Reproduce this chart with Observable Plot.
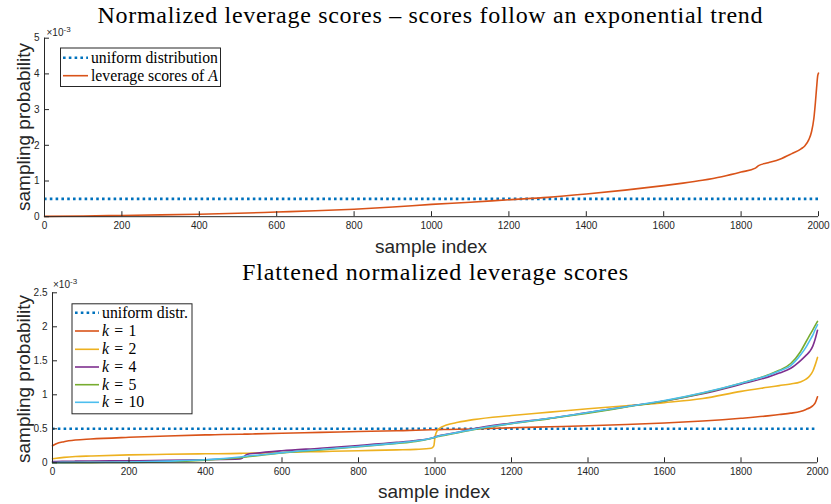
<!DOCTYPE html>
<html>
<head>
<meta charset="utf-8">
<script src="https://cdn.jsdelivr.net/npm/d3@7"></script>
<script src="https://cdn.jsdelivr.net/npm/@observablehq/plot@0.6"></script>
<style>
  html, body { margin: 0; padding: 0; background: #fff; }
  #wrap { position: relative; width: 831px; height: 504px; overflow: hidden; }
  #wrap > svg { position: absolute; left: 0; }
</style>
</head>
<body>
<div id="wrap"></div>
<script>
// ---------- data (probabilities in units of 10^-3) ----------
const xTicks = [0, 200, 400, 600, 800, 1000, 1200, 1400, 1600, 1800, 2000];
const topYTicks = [0, 1, 2, 3, 4, 5];
const botYTicks = [0, 0.5, 1, 1.5, 2, 2.5];
const uniformProb = 0.5; // 1/2000

const topIndex  = [0, 100, 200, 300, 400, 500, 600, 700, 800, 900, 1000, 1100, 1200, 1300, 1400, 1500, 1600, 1650, 1700, 1750, 1800, 1837, 1845, 1870, 1900, 1930, 1955, 1965, 1975, 1982, 1988, 1992, 1995, 1998, 2000];
const topScores = [0.01, 0.02, 0.035, 0.05, 0.07, 0.095, 0.13, 0.165, 0.21, 0.27, 0.345, 0.405, 0.475, 0.54, 0.635, 0.745, 0.87, 0.94, 1.02, 1.12, 1.25, 1.36, 1.43, 1.51, 1.61, 1.76, 1.9, 1.99, 2.16, 2.38, 2.75, 3.2, 3.6, 3.95, 4.02];

const botIndex = [0, 10, 30, 60, 100, 200, 300, 400, 490, 495, 500, 505, 510, 530, 600, 700, 800, 900, 950, 990, 997, 1000, 1003, 1010, 1030, 1060, 1100, 1200, 1300, 1400, 1500, 1600, 1700, 1800, 1870, 1900, 1930, 1955, 1970, 1980, 1988, 1994, 2000];
const k1  = [0.25, 0.28, 0.31, 0.335, 0.35, 0.375, 0.395, 0.41, 0.42, 0.42, 0.421, 0.422, 0.422, 0.425, 0.435, 0.447, 0.46, 0.472, 0.478, 0.485, 0.486, 0.487, 0.487, 0.488, 0.49, 0.493, 0.498, 0.515, 0.53, 0.545, 0.563, 0.585, 0.615, 0.655, 0.69, 0.71, 0.73, 0.755, 0.785, 0.81, 0.84, 0.88, 0.97];
const k2  = [0.06, 0.068, 0.08, 0.092, 0.1, 0.117, 0.125, 0.132, 0.138, 0.139, 0.14, 0.14, 0.141, 0.143, 0.152, 0.165, 0.178, 0.19, 0.198, 0.215, 0.25, 0.38, 0.44, 0.5, 0.555, 0.595, 0.635, 0.695, 0.745, 0.795, 0.84, 0.885, 0.945, 1.05, 1.11, 1.135, 1.16, 1.19, 1.23, 1.28, 1.35, 1.44, 1.55];
const k4  = [0.018, 0.02, 0.022, 0.024, 0.026, 0.03, 0.035, 0.045, 0.057, 0.065, 0.09, 0.113, 0.125, 0.14, 0.178, 0.215, 0.255, 0.3, 0.328, 0.362, 0.372, 0.38, 0.386, 0.396, 0.418, 0.45, 0.5, 0.585, 0.655, 0.74, 0.825, 0.91, 1.015, 1.155, 1.26, 1.32, 1.39, 1.5, 1.58, 1.64, 1.72, 1.82, 1.95];
const k5  = [0.0, 0.001, 0.002, 0.002, 0.003, 0.005, 0.015, 0.04, 0.075, 0.078, 0.082, 0.086, 0.09, 0.102, 0.145, 0.19, 0.236, 0.285, 0.315, 0.358, 0.367, 0.372, 0.378, 0.388, 0.41, 0.443, 0.488, 0.575, 0.65, 0.73, 0.82, 0.91, 1.025, 1.17, 1.29, 1.36, 1.46, 1.63, 1.78, 1.88, 1.96, 2.02, 2.08];
const k10 = [0.005, 0.005, 0.006, 0.007, 0.008, 0.012, 0.025, 0.045, 0.085, 0.088, 0.092, 0.096, 0.1, 0.11, 0.15, 0.195, 0.24, 0.29, 0.32, 0.362, 0.372, 0.377, 0.383, 0.393, 0.415, 0.447, 0.492, 0.578, 0.655, 0.74, 0.825, 0.915, 1.03, 1.17, 1.285, 1.35, 1.43, 1.58, 1.7, 1.8, 1.88, 1.96, 2.03];

const topTitle = "Normalized leverage scores \u2013 scores follow an exponential trend";
const botTitle = "Flattened normalized leverage scores";
const xLabel = "sample index";
const yLabel = "sampling probability";

// ---------- styles ----------
const C = { blue: "#0072BD", orange: "#D95319", yellow: "#EDB120", purple: "#7E2F8E", green: "#77AC30", cyan: "#4DBEEE" };
const axisColor = "#262626";
const dotted = { stroke: C.blue, strokeWidth: 2.6, strokeDasharray: "2.6,3.2" };
const lw = 1.6;

const topSeries = [{ name: "leverage", color: C.orange, values: topScores }];
const botSeries = [
  { label: "1", color: C.orange, values: k1 },
  { label: "2", color: C.yellow, values: k2 },
  { label: "4", color: C.purple, values: k4 },
  { label: "5", color: C.green, values: k5 },
  { label: "10", color: C.cyan, values: k10 }
];

function panel({ index, series, yDomain, yTicks, height, mt, mb, ml, mr }) {
  const plotW = 831 - ml - mr, plotH = height - mt - mb;
  const marks = [
    Plot.ruleY([uniformProb], { ...dotted }),
    ...series.map(s => Plot.line(index.map((x, i) => ({ x, y: s.values[i] })), { x: "x", y: "y", stroke: s.color, strokeWidth: lw, curve: "monotone-x" })),
    Plot.ruleX([0], { stroke: axisColor }),
    Plot.ruleY([0], { stroke: axisColor }),
    Plot.ruleX(xTicks, { x: d => d, insetTop: plotH - 5, stroke: axisColor }),
    Plot.ruleY(yTicks, { y: d => d, insetRight: plotW - 5, stroke: axisColor }),
    Plot.axisX({ ticks: xTicks, tickSize: 0, tickPadding: 5, tickFormat: d => String(d), label: null, fill: axisColor }),
    Plot.axisY({ ticks: yTicks, tickSize: 0, tickPadding: 5, tickFormat: d => String(d), label: null, fill: axisColor })
  ];
  return Plot.plot({
    width: 831, height,
    marginTop: mt, marginBottom: mb, marginLeft: ml, marginRight: mr,
    x: { domain: [0, 2000] },
    y: { domain: yDomain },
    style: { fontFamily: "'Liberation Sans', Arial, sans-serif", fontSize: "10px", color: axisColor, background: "transparent", overflow: "visible" },
    marks
  });
}

const wrap = document.getElementById("wrap");
const topChart = panel({ index: topIndex, series: topSeries, yDomain: [0, 5], yTicks: topYTicks, height: 255, mt: 37.7, mb: 38.8, ml: 44, mr: 13 });
topChart.style.top = "0px";
wrap.appendChild(topChart);
const botChart = panel({ index: botIndex, series: botSeries, yDomain: [0, 2.5], yTicks: botYTicks, height: 249, mt: 37.3, mb: 41.7, ml: 52, mr: 14 });
botChart.style.top = "255px";
wrap.appendChild(botChart);

// ---------- overlay text: titles, labels, legends ----------
const ctx = document.createElement("canvas").getContext("2d");
function measure(text, family, size, style = "") {
  ctx.font = `${style} ${size}px ${family}`;
  return ctx.measureText(text).width;
}
function fitSize(text, family, target) {
  return 100 * target / measure(text, family, 100);
}
const serif = "'Liberation Serif', 'Times New Roman', serif";
const sans = "'Liberation Sans', Arial, sans-serif";

const ov = d3.create("svg").attr("width", 831).attr("height", 504)
  .style("position", "absolute").style("top", "0px").style("left", "0px");

function title(text, cx, baseline, width, size) {
  const w = measure(text, serif, size);
  const ls = Math.max(0, (width - w) / (text.length - 1));
  ov.append("text").attr("x", cx + ls / 2).attr("y", baseline).attr("text-anchor", "middle")
    .attr("font-family", serif).attr("font-size", size).attr("letter-spacing", ls).attr("fill", "#000").text(text);
}
title(topTitle, 430, 23, 665, 24);
title(botTitle, 435, 280, 386, 24);

function xlab(cx, baseline) {
  ov.append("text").attr("x", cx).attr("y", baseline).attr("text-anchor", "middle")
    .attr("font-family", sans).attr("font-size", 19).attr("fill", axisColor).text(xLabel);
}
xlab(431, 253);
xlab(434, 498);

function ylab(bx, cy) {
  ov.append("text").attr("transform", `translate(${bx},${cy}) rotate(-90)`).attr("text-anchor", "middle")
    .attr("font-family", sans).attr("font-size", 19).attr("fill", axisColor).text(yLabel);
}
ylab(29.5, 127);
ylab(29.5, 379);

function expo(x, baseline) {
  const t = ov.append("text").attr("x", x).attr("y", baseline).attr("font-family", sans).attr("font-size", 10).attr("fill", axisColor);
  t.append("tspan").text("\u00d710");
  t.append("tspan").attr("dy", -4).attr("font-size", 8).text("-3");
}
expo(46.5, 35.5);
expo(53, 287.7);

function legend(x, y, w, h, rows, rowY, lineX0, lineX1, textX, fontSize) {
  ov.append("rect").attr("x", x + 0.5).attr("y", y + 0.5).attr("width", w).attr("height", h)
    .attr("fill", "#fff").attr("stroke", axisColor).attr("stroke-width", 1);
  rows.forEach((r, i) => {
    const yy = rowY[i];
    const ln = ov.append("line").attr("x1", lineX0).attr("x2", lineX1).attr("y1", yy).attr("y2", yy)
      .attr("stroke", r.color).attr("stroke-width", r.dotted ? dotted.strokeWidth : lw);
    if (r.dotted) ln.attr("stroke-dasharray", dotted.strokeDasharray);
    const t = ov.append("text").attr("x", textX).attr("y", yy + fontSize * 0.32)
      .attr("font-family", serif).attr("font-size", fontSize).attr("fill", "#000");
    r.parts.forEach(p => {
      const s = t.append("tspan").text(p.t);
      if (p.i) s.attr("font-style", "italic");
    });
  });
}
const topFs = fitSize("uniform distribution", serif, 127);
legend(60, 47.5, 160, 38.5, [
  { color: C.blue, dotted: true, parts: [{ t: "uniform distribution" }] },
  { color: C.orange, parts: [{ t: "leverage scores of " }, { t: "A", i: true }] }
], [57.7, 75.7], 63, 88, 91, topFs);

const botFs = fitSize("uniform distr.", serif, 86);
legend(71.5, 303.3, 120, 110, [
  { color: C.blue, dotted: true, parts: [{ t: "uniform distr." }] },
  ...botSeries.map(s => ({ color: s.color, parts: [{ t: "k", i: true }, { t: "\u2004=\u2004" + s.label }] }))
], [312.7, 331, 349.3, 367, 384.7, 402.3], 75, 99, 102, botFs);

wrap.appendChild(ov.node());
</script>
</body>
</html>
